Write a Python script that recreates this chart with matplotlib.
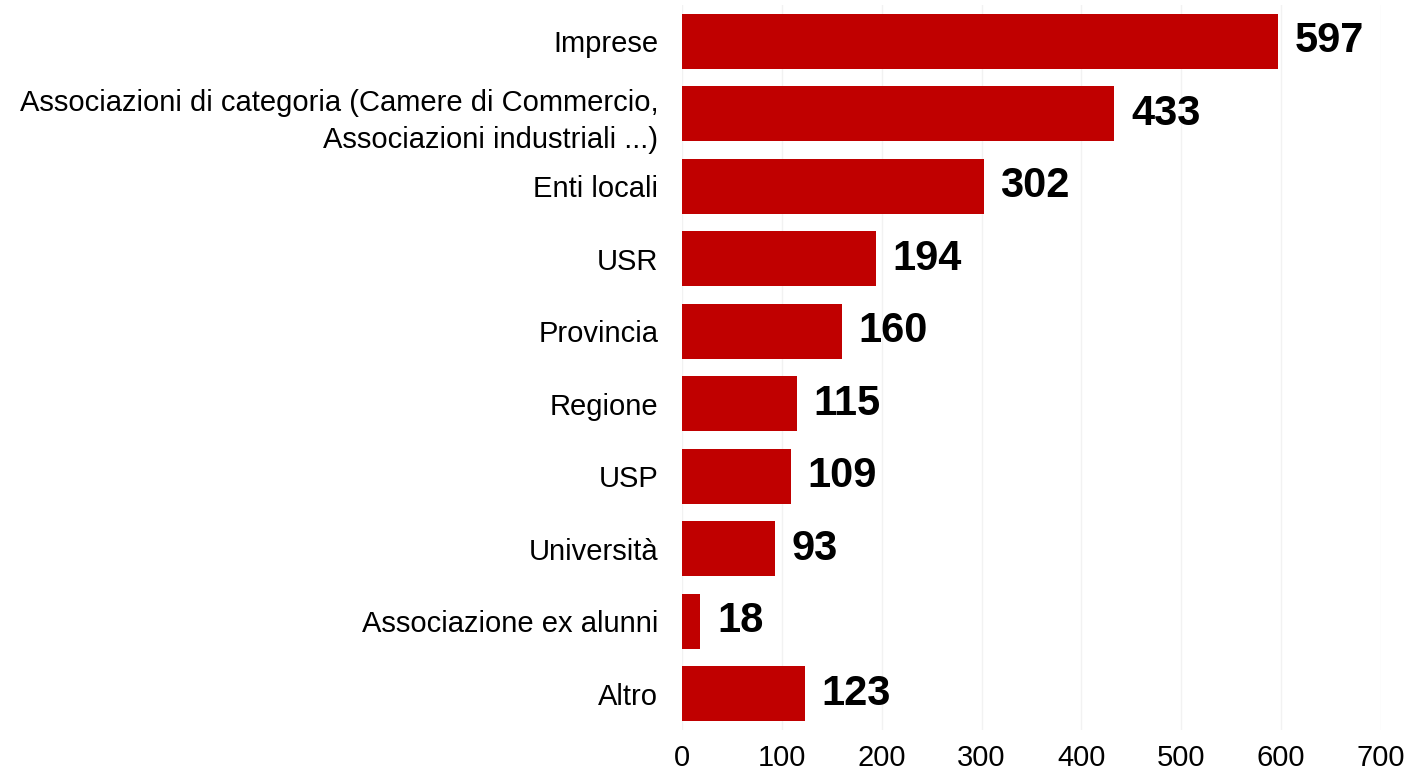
import matplotlib.pyplot as plt

categories = [
    'Imprese',
    'Associazioni di categoria (Camere di Commercio,\nAssociazioni industriali ...)',
    'Enti locali',
    'USR',
    'Provincia',
    'Regione',
    'USP',
    'Università',
    'Associazione ex alunni',
    'Altro',
]
values = [597, 433, 302, 194, 160, 115, 109, 93, 18, 123]
xticks = [0, 100, 200, 300, 400, 500, 600, 700]

plt.rcParams['font.family'] = ['Liberation Sans', 'DejaVu Sans']

fig = plt.figure(figsize=(14.05, 7.73), dpi=100)
ax = fig.add_axes([0.4854, 0.0556, 0.4975, 0.938])

y = list(range(len(categories)))
ax.barh(y, values, height=0.76, color='#c00000', zorder=2)
for yi, v in zip(y, values):
    ax.text(v + 17, yi, str(v), va='center', ha='left',
            fontsize=30, fontweight='bold', color='black', zorder=3)

ax.set_ylim(len(categories) - 0.5, -0.5)
ax.set_xlim(0, 700)
ax.set_yticks(y)
ax.set_yticklabels(categories, fontsize=21)
ax.set_xticks(xticks)
ax.tick_params(axis='x', labelsize=21, length=0, pad=10)
ax.tick_params(axis='y', length=0, pad=17)
for lab in ax.get_yticklabels():
    lab.set_horizontalalignment('right')
    lab.set_multialignment('right')
    lab.set_linespacing(1.4)

ax.grid(axis='x', color='#f2f2f2', linewidth=1, zorder=0)
for s in ax.spines.values():
    s.set_visible(False)

fig.savefig('out.png', dpi=100)
